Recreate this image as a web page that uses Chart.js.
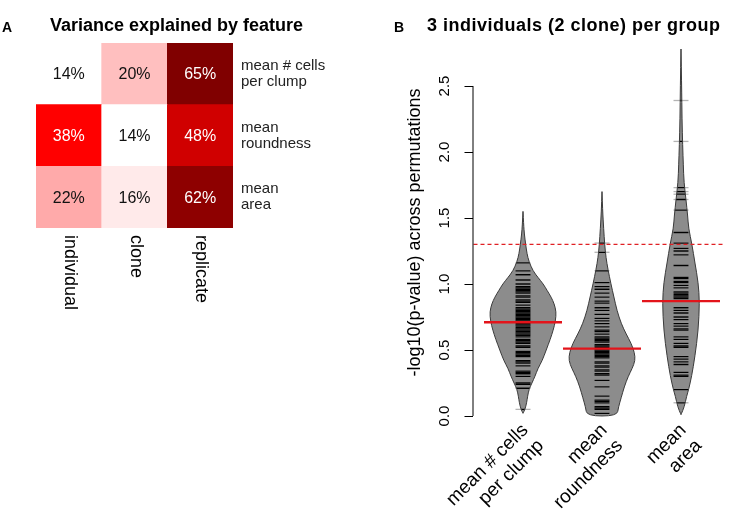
<!DOCTYPE html>
<html>
<head>
<meta charset="utf-8">
<script src="https://cdn.jsdelivr.net/npm/chart.js@4.4.1/dist/chart.umd.min.js"></script>
<style>
  body { margin: 0; background: #fff; font-family: "Liberation Sans", Arial, sans-serif; }
  #wrap { position: relative; width: 750px; height: 513px; overflow: hidden; }
  #panelA { position: absolute; left: 0; top: 0; }
  #panelB { position: absolute; left: 390px; top: 0; }
  .lab { position: absolute; font-weight: bold; color: #000; white-space: nowrap; }
</style>
</head>
<body>
<div id="wrap">
  <canvas id="panelA" width="390" height="513"></canvas>
  <canvas id="panelB" width="360" height="513"></canvas>
  <div class="lab" style="left:2px;top:19px;font-size:14px">A</div>
  <div class="lab" style="left:50px;top:15px;font-size:18px">Variance explained by feature</div>
  <div class="lab" style="left:394px;top:19px;font-size:14px">B</div>
  <div class="lab" style="left:427px;top:15px;font-size:18px;letter-spacing:0.5px">3 individuals (2 clone) per group</div>
</div>
<script>
// ---- panel A data: % variance explained ----
const sources = ['individual', 'clone', 'replicate'];
const features = [['mean # cells', 'per clump'], ['mean', 'roundness'], ['mean', 'area']];
const varCells = [14, 20, 65];
const varRound = [38, 14, 48];
const varArea = [22, 16, 62];

// ---- panel B data: -log10(p) across permutations ----
const beanCells = [1.16, 1.10, 1.07, 1.03, 1.00, 0.98, 0.97, 0.96, 0.95, 0.94, 0.93, 0.91, 0.90, 0.88,
  0.87, 0.86, 0.84, 0.82, 0.81, 0.80, 0.79, 0.78, 0.77, 0.76, 0.75, 0.74, 0.73, 0.72, 0.71, 0.70,
  0.69, 0.68, 0.67, 0.66, 0.65, 0.64, 0.63, 0.62, 0.61, 0.60, 0.58, 0.57, 0.56, 0.55, 0.53, 0.52,
  0.49, 0.48, 0.47, 0.46, 0.45, 0.42, 0.41, 0.40, 0.38, 0.34, 0.33, 0.32, 0.30, 0.25, 0.24, 0.21, 0.05];
const beanRound = [1.31, 1.24, 1.10, 1.01, 0.98, 0.96, 0.93, 0.90, 0.87, 0.855, 0.82, 0.80, 0.77, 0.74,
  0.72, 0.70, 0.675, 0.65, 0.64, 0.62, 0.60, 0.59, 0.58, 0.57, 0.56, 0.54, 0.53, 0.52, 0.51, 0.50,
  0.49, 0.48, 0.47, 0.46, 0.45, 0.44, 0.41, 0.40, 0.38, 0.37, 0.35, 0.34, 0.32, 0.31, 0.27, 0.22,
  0.15, 0.12, 0.11, 0.10, 0.07, 0.06, 0.05, 0.02];
const beanArea = [2.39, 2.08, 1.73, 1.70, 1.68, 1.64, 1.56, 1.39, 1.31, 1.27, 1.25, 1.22, 1.14, 1.05,
  1.04, 1.02, 1.01, 0.99, 0.97, 0.94, 0.93, 0.92, 0.91, 0.90, 0.89, 0.87, 0.82, 0.80, 0.78, 0.75,
  0.73, 0.70, 0.68, 0.66, 0.65, 0.60, 0.58, 0.55, 0.53, 0.52, 0.45, 0.43, 0.41, 0.39, 0.33, 0.31,
  0.30, 0.20, 0.10];
const beanMeans = [0.71, 0.51, 0.87];
const cutoff = 1.3; // -log10(0.05)
const yTicks = [0, 0.5, 1, 1.5, 2, 2.5];

// density outlines (level, relative width), top to bottom
const levCells = [1.55, 1.45, 1.38, 1.30, 1.23, 1.17, 1.10, 1.05, 1.00, 0.95, 0.90, 0.85, 0.79, 0.72,
  0.65, 0.58, 0.50, 0.42, 0.36, 0.30, 0.25, 0.20, 0.15, 0.10, 0.05, 0.02];
const denCells = [0, 0.02, 0.04, 0.08, 0.12, 0.18, 0.30, 0.45, 0.61, 0.73, 0.85, 0.94, 1.00, 0.98,
  0.91, 0.82, 0.70, 0.58, 0.45, 0.36, 0.27, 0.18, 0.14, 0.11, 0.06, 0];
const levRound = [1.70, 1.55, 1.42, 1.30, 1.20, 1.11, 1.00, 0.90, 0.80, 0.70, 0.62, 0.55, 0.48, 0.42,
  0.36, 0.30, 0.22, 0.14, 0.07, 0.00];
const denRound = [0, 0.02, 0.05, 0.08, 0.12, 0.18, 0.27, 0.36, 0.45, 0.58, 0.73, 0.88, 0.98, 1.00,
  0.91, 0.79, 0.67, 0.58, 0.50, 0.45];
const levArea = [2.78, 2.50, 2.25, 2.05, 1.90, 1.77, 1.64, 1.52, 1.42, 1.30, 1.16, 1.01, 0.86, 0.65,
  0.45, 0.30, 0.20, 0.15, 0.07, 0.01];
const denArea = [0, 0.02, 0.03, 0.05, 0.07, 0.09, 0.15, 0.20, 0.23, 0.33, 0.42, 0.52, 0.56, 0.52,
  0.42, 0.32, 0.23, 0.17, 0.10, 0];

const FONT = '"Liberation Sans", Arial, sans-serif';

// white -> red -> dark red
function heatColour(p) {
  const stops = [[14, [255, 255, 255]], [38, [255, 0, 0]], [65, [128, 0, 0]]];
  let a = stops[0], b = stops[1];
  if (p > 38) { a = stops[1]; b = stops[2]; }
  const t = Math.max(0, Math.min(1, (p - a[0]) / (b[0] - a[0])));
  const c = a[1].map((v, k) => Math.round(v + (b[1][k] - v) * t));
  return `rgb(${c[0]}, ${c[1]}, ${c[2]})`;
}

// rows stack bottom-up, so the bottom row goes first
const heatRows = [varArea, varRound, varCells];

const heatLabels = {
  id: 'heatLabels',
  afterDatasetsDraw(chart) {
    const ctx = chart.ctx;
    const area = chart.chartArea;
    const yScale = chart.scales.y;
    const xScale = chart.scales.x;
    ctx.save();
    ctx.textAlign = 'center';
    ctx.textBaseline = 'middle';
    ctx.font = '16px ' + FONT;
    chart.data.datasets.forEach((ds, d) => {
      chart.getDatasetMeta(d).data.forEach((bar, i) => {
        const p = heatRows[d][i];
        ctx.fillStyle = p >= 30 ? '#fff' : '#111';
        ctx.fillText(p + '%', bar.x, (bar.y + bar.base) / 2 + 1);
      });
    });
    // feature names on the right
    ctx.textAlign = 'left';
    ctx.font = '15px ' + FONT;
    ctx.fillStyle = '#222';
    features.forEach((lines, r) => {
      const cy = yScale.getPixelForValue(2.5 - r);
      ctx.fillText(lines[0], area.right + 8, cy - 8);
      ctx.fillText(lines[1], area.right + 8, cy + 8);
    });
    // sources under the columns, rotated
    ctx.font = '18px ' + FONT;
    ctx.fillStyle = '#000';
    sources.forEach((s, i) => {
      ctx.save();
      ctx.translate(xScale.getPixelForValue(i) + 1, area.bottom + 7);
      ctx.rotate(Math.PI / 2);
      ctx.textAlign = 'left';
      ctx.fillText(s, 0, 0);
      ctx.restore();
    });
    ctx.restore();
  }
};

new Chart(document.getElementById('panelA'), {
  type: 'bar',
  data: {
    labels: sources,
    datasets: heatRows.map(row => ({
      data: row.map(() => 1),
      backgroundColor: row.map(heatColour),
      borderWidth: 0,
      barPercentage: 1,
      categoryPercentage: 1
    }))
  },
  options: {
    responsive: false,
    animation: false,
    events: [],
    layout: { padding: { left: 36, top: 43, right: 157, bottom: 285 } },
    scales: {
      x: { display: false, stacked: true },
      y: { display: false, stacked: true, min: 0, max: 3 }
    },
    plugins: { legend: { display: false }, tooltip: { enabled: false } }
  },
  plugins: [heatLabels]
});

// ---- panel B ----
const beans = [beanCells, beanRound, beanArea];
const levels = [levCells, levRound, levArea];
const dens = [denCells, denRound, denArea];

function beanPath(ctx, ys, cx, half, i) {
  const pts = [];
  levels[i].forEach((lv, k) => pts.push([cx + dens[i][k] * half, ys.getPixelForValue(lv)]));
  for (let k = levels[i].length - 1; k >= 0; k--) {
    pts.push([cx - dens[i][k] * half, ys.getPixelForValue(levels[i][k])]);
  }
  ctx.beginPath();
  ctx.moveTo(pts[0][0], pts[0][1]);
  for (let k = 1; k < pts.length - 1; k++) {
    const mx = (pts[k][0] + pts[k + 1][0]) / 2;
    const my = (pts[k][1] + pts[k + 1][1]) / 2;
    ctx.quadraticCurveTo(pts[k][0], pts[k][1], mx, my);
  }
  ctx.lineTo(pts[pts.length - 1][0], pts[pts.length - 1][1]);
  ctx.closePath();
}

function beanLines(ctx, ys, cx, vals) {
  vals.forEach(v => {
    const py = ys.getPixelForValue(v);
    ctx.beginPath();
    ctx.moveTo(cx - 7.5, py);
    ctx.lineTo(cx + 7.5, py);
    ctx.stroke();
  });
}

const beanPlot = {
  id: 'beanPlot',
  beforeDatasetsDraw(chart) {
    const ctx = chart.ctx;
    const xs = chart.scales.x, ys = chart.scales.y;
    const step = xs.getPixelForValue(1) - xs.getPixelForValue(0);
    const half = step * 0.42;
    ctx.save();
    beans.forEach((vals, i) => {
      const cx = xs.getPixelForValue(i);
      beanPath(ctx, ys, cx, half, i);
      ctx.fillStyle = '#8c8c8c';
      ctx.fill();
      // bean lines: pale where they stick out, black inside
      ctx.lineWidth = 1.3;
      ctx.strokeStyle = '#b4b4b4';
      beanLines(ctx, ys, cx, vals);
      ctx.save();
      beanPath(ctx, ys, cx, half, i);
      ctx.clip();
      ctx.strokeStyle = '#000';
      beanLines(ctx, ys, cx, vals);
      ctx.restore();
      beanPath(ctx, ys, cx, half, i);
      ctx.lineWidth = 1;
      ctx.strokeStyle = '#3a3a3a';
      ctx.stroke();
    });
    // significance cut-off
    const area = chart.chartArea;
    const cy = ys.getPixelForValue(cutoff);
    ctx.setLineDash([4, 3]);
    ctx.strokeStyle = '#e02024';
    ctx.lineWidth = 1.4;
    ctx.beginPath();
    ctx.moveTo(area.left - 10, cy);
    ctx.lineTo(area.right + 2, cy);
    ctx.stroke();
    ctx.restore();
  },
  afterDraw(chart) {
    const ctx = chart.ctx;
    const xs = chart.scales.x, ys = chart.scales.y;
    const area = chart.chartArea;
    const ax = area.left - 11;
    ctx.save();
    ctx.strokeStyle = '#000';
    ctx.lineWidth = 1;
    ctx.beginPath();
    ctx.moveTo(ax + 0.5, ys.getPixelForValue(yTicks[0]));
    ctx.lineTo(ax + 0.5, ys.getPixelForValue(yTicks[yTicks.length - 1]));
    yTicks.forEach(t => {
      const py = Math.round(ys.getPixelForValue(t)) + 0.5;
      ctx.moveTo(ax + 0.5, py);
      ctx.lineTo(ax - 8, py);
    });
    ctx.stroke();
    ctx.fillStyle = '#000';
    ctx.textAlign = 'center';
    ctx.textBaseline = 'middle';
    ctx.font = '15px ' + FONT;
    yTicks.forEach(t => {
      ctx.save();
      ctx.translate(ax - 28, ys.getPixelForValue(t));
      ctx.rotate(-Math.PI / 2);
      ctx.fillText(t.toFixed(1), 0, 0);
      ctx.restore();
    });
    ctx.font = '18px ' + FONT;
    ctx.save();
    ctx.translate(ax - 57, (area.top + area.bottom) / 2);
    ctx.rotate(-Math.PI / 2);
    ctx.fillText('-log10(p-value) across permutations', 0, 0);
    ctx.restore();
    // feature names, slanted
    ctx.font = '19px ' + FONT;
    ctx.textAlign = 'right';
    ctx.textBaseline = 'alphabetic';
    features.forEach((lines, i) => {
      ctx.save();
      ctx.translate(xs.getPixelForValue(i) + 6, 431);
      ctx.rotate(-Math.PI / 4);
      ctx.fillText(lines[0], 0, 0);
      ctx.fillText(lines[1], 0, 22);
      ctx.restore();
    });
    ctx.restore();
  }
};

new Chart(document.getElementById('panelB'), {
  type: 'line',
  data: {
    labels: features.map(f => f.join(' ')),
    datasets: [{
      data: beanMeans,
      showLine: false,
      clip: false,
      pointStyle: 'line',
      pointRadius: 39,
      pointHoverRadius: 39,
      pointBorderColor: '#e3141b',
      pointBorderWidth: 2.4
    }]
  },
  options: {
    responsive: false,
    animation: false,
    events: [],
    layout: { autoPadding: false, padding: { left: 93.5, right: 29.5, top: 34.5, bottom: 82.5 } },
    scales: {
      x: { display: false, offset: true },
      y: { display: false, min: -0.11, max: 2.89 }
    },
    plugins: { legend: { display: false }, tooltip: { enabled: false } }
  },
  plugins: [beanPlot]
});
</script>
</body>
</html>
